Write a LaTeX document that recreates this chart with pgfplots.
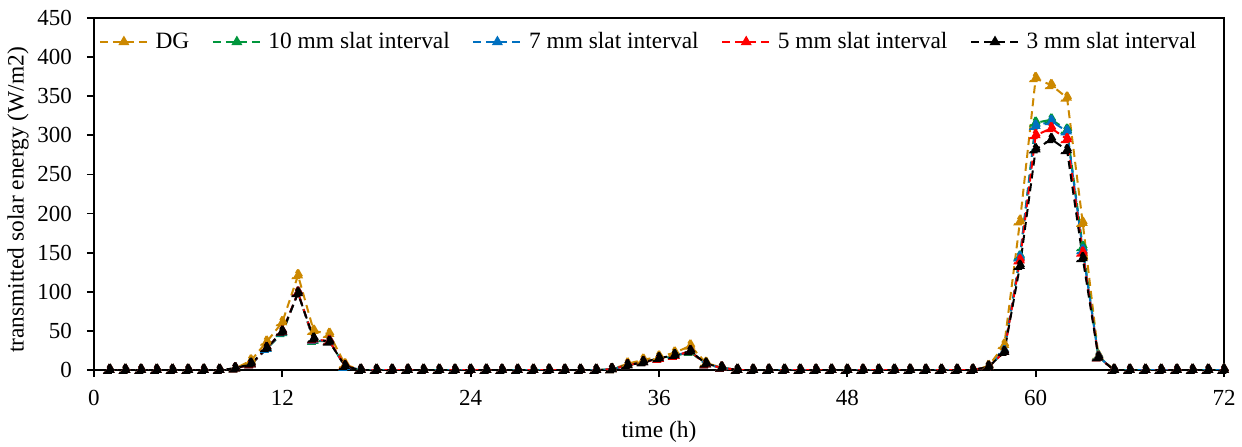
\documentclass[border=0pt]{standalone}
\usepackage{pgfplots}
\pgfplotsset{compat=1.18}
\usepackage{pgfplotstable}
\usepackage{fontspec}
\setmainfont{Liberation Serif}
\definecolor{cdg}{RGB}{204,136,0}
\definecolor{c10}{RGB}{0,150,60}
\definecolor{c7}{RGB}{0,112,192}
\definecolor{c5}{RGB}{255,0,0}
\definecolor{c3}{RGB}{0,0,0}
\pgfplotstableread{
t dg s10 s7 s5 s3
1 0 0 0 0 0
2 0 0 0 0 0
3 0 0 0 0 0
4 0 0 0 0 0
5 0 0 0 0 0
6 0 0 0 0 0
7 0 0 0 0 0
8 0 0 0 0 0
9 2 2 2 2 2
10 12 7 7 7 8
11 36 27 27 28 28
12 61 47 48 49 49
13 121 99 99 99 98
14 50 37 38 39 40
15 46 37 37 37 36
16 7 4 4 5 5
17 0 0 0 0 0
18 0 0 0 0 0
19 0 0 0 0 0
20 0 0 0 0 0
21 0 0 0 0 0
22 0 0 0 0 0
23 0 0 0 0 0
24 0 0 0 0 0
25 0 0 0 0 0
26 0 0 0 0 0
27 0 0 0 0 0
28 0 0 0 0 0
29 0 0 0 0 0
30 0 0 0 0 0
31 0 0 0 0 0
32 0 0 0 0 0
33 1 1 1 1 1
34 8 6 6 6 6
35 13 10 10 10 10
36 17 14 14 14 15
37 22 18 18 18 19
38 31 23 24 24 24
39 9 7 7 7 8
40 3 3 3 3 3
41 0 0 0 0 0
42 0 0 0 0 0
43 0 0 0 0 0
44 0 0 0 0 0
45 0 0 0 0 0
46 0 0 0 0 0
47 0 0 0 0 0
48 0 0 0 0 0
49 0 0 0 0 0
50 0 0 0 0 0
51 0 0 0 0 0
52 0 0 0 0 0
53 0 0 0 0 0
54 0 0 0 0 0
55 0 0 0 0 0
56 0 0 0 0 0
57 5 4 4 4 4
58 32 24 24 23 23
59 190 145 144 140 133
60 373 316 312 300 282
61 364 320 318 309 295
62 348 307 305 295 281
63 188 157 153 150 143
64 18 17 17 16 16
65 0 0 0 0 0
66 0 0 0 0 0
67 0 0 0 0 0
68 0 0 0 0 0
69 0 0 0 0 0
70 0 0 0 0 0
71 0 0 0 0 0
72 0 0 0 0 0
}\solar
\begin{document}
\begin{tikzpicture}
\begin{axis}[
  at={(0,0)}, anchor=south west,
  scale only axis, width=565bp, height=176bp,
  xmin=0, xmax=72, ymin=0, ymax=450,
  xtick={0,12,...,72}, ytick={0,50,...,450},
  tick align=outside, tick pos=left,
  major tick length=3.5bp,
  axis line style={line width=1pt}, tick style={line width=0.9pt, black},
  xlabel={time (h)}, ylabel={transmitted solar energy (W/m2)},
  label style={font=\fontsize{11.7bp}{14bp}\selectfont},
  ticklabel style={font=\fontsize{11.5bp}{14bp}\selectfont},
  /pgf/number format/assume math mode=true,
  yticklabel style={xshift=-4bp},
  xticklabel style={yshift=-3bp},
  xlabel style={at={(axis description cs:0.5,-0.176)}, anchor=center},
  ylabel style={at={(axis description cs:-0.0673,0.483)}, anchor=center},
  legend style={draw=none, fill=none, inner sep=0pt, at={(axis description cs:0.004,0.932)}, anchor=west,
    font=\fontsize{11.7bp}{14bp}\selectfont, column sep=3bp, nodes={inner sep=0.3bp},
    /tikz/every even column/.append style={column sep=11bp}},
  legend columns=-1,
  legend image code/.code={\draw[#1, mark=none] (0bp,0bp) -- (24bp,0bp); \draw[#1, solid, mark size=2.2bp] plot coordinates {(12bp,0bp)};},
  every axis plot/.append style={line width=1pt, dash pattern=on 4bp off 2.5bp,
    mark=triangle*, mark size=2.9bp, mark options={solid}},
]
\addplot[cdg, mark options={fill=cdg}] table[x=t, y=dg] {\solar};
\addplot[c10, mark options={fill=c10}] table[x=t, y=s10] {\solar};
\addplot[c7, mark options={fill=c7}] table[x=t, y=s7] {\solar};
\addplot[c5, mark options={fill=c5}] table[x=t, y=s5] {\solar};
\addplot[c3, mark options={fill=c3}] table[x=t, y=s3] {\solar};
\legend{DG, 10 mm slat interval, 7 mm slat interval, 5 mm slat interval, 3 mm slat interval}
\end{axis}
\pgfresetboundingbox
\path (-47bp,-38.5bp) rectangle (574bp,185bp);
\end{tikzpicture}
\end{document}
